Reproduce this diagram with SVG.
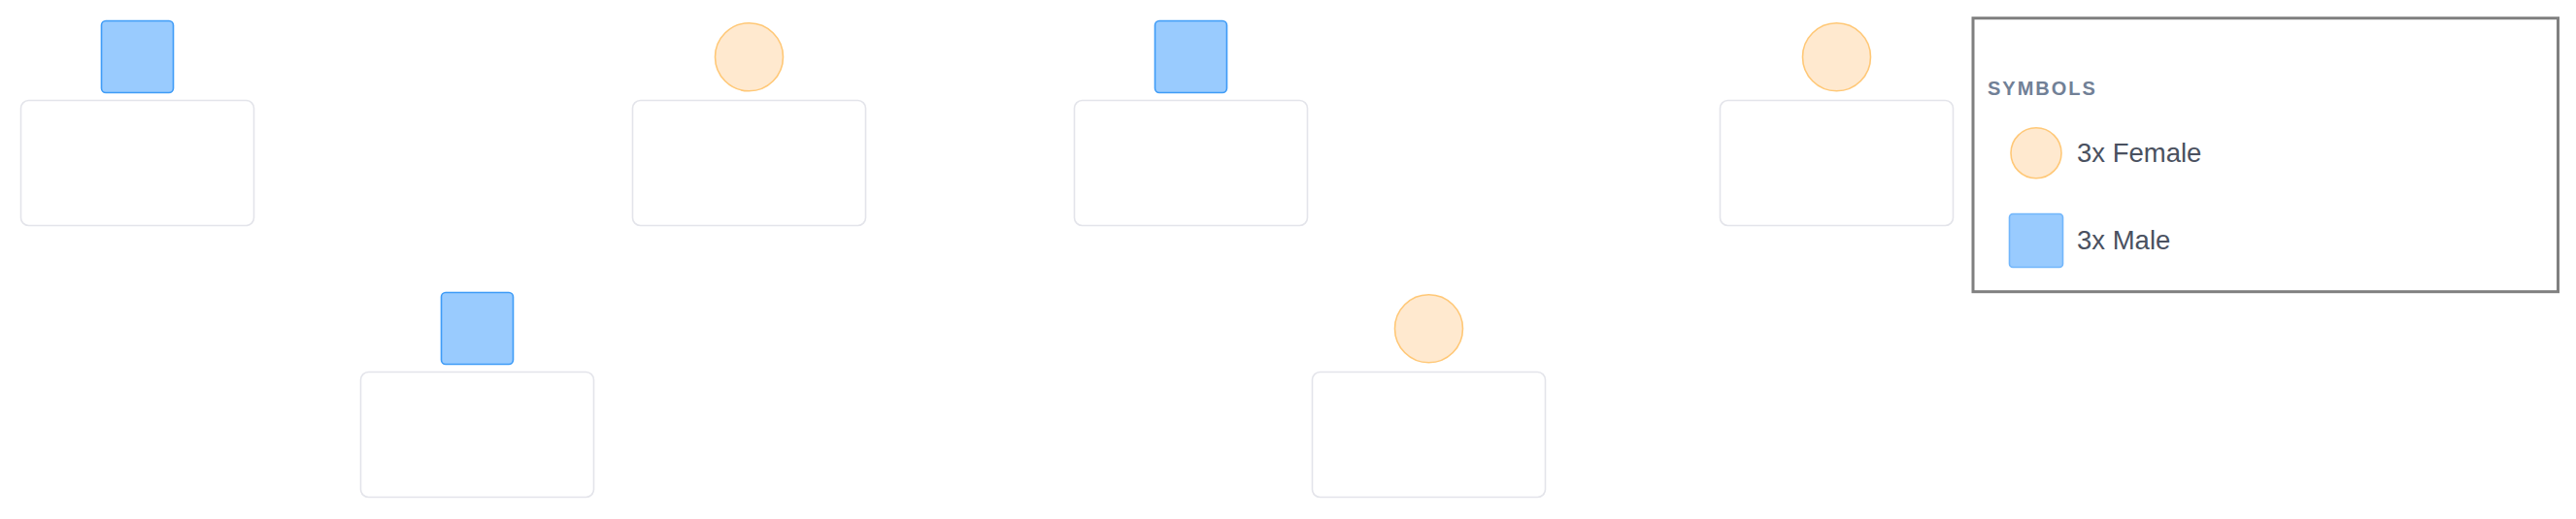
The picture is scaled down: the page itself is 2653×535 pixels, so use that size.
<svg xmlns="http://www.w3.org/2000/svg" width="2653" height="535" viewBox="0 0 2653 535">
<style>
.card{fill:#ffffff;stroke:#e3e4ea;stroke-width:1.6}
.male{fill:#99cbfe;stroke:#3f9cf7;stroke-width:1.6}
.female{fill:#ffe9cf;stroke:#ffc877;stroke-width:1.6}
.lm{fill:#99cbfe;stroke:#72b6fb;stroke-width:1.6}
.title{font-family:"Liberation Sans",Arial,sans-serif;font-weight:bold;font-size:20px;letter-spacing:2px;fill:#718096}
.lbl{font-family:"Liberation Sans",Arial,sans-serif;font-size:27.5px;fill:#4a5160}
</style>
<rect width="2653" height="535" fill="#ffffff"/>
<g id="connectors"></g>
<g id="node1">
<rect class="card" x="21.5" y="103.5" width="240" height="129" rx="8"/>
<rect class="male" x="104.5" y="21.5" width="74" height="74" rx="4.5"/>
</g>
<g id="node2">
<rect class="card" x="651.5" y="103.5" width="240" height="129" rx="8"/>
<circle class="female" cx="771.5" cy="58.8" r="35"/>
</g>
<g id="node3">
<rect class="card" x="1106.5" y="103.5" width="240" height="129" rx="8"/>
<rect class="male" x="1189.5" y="21.5" width="74" height="74" rx="4.5"/>
</g>
<g id="node4">
<rect class="card" x="1771.5" y="103.5" width="240" height="129" rx="8"/>
<circle class="female" cx="1891.5" cy="58.8" r="35"/>
</g>
<g id="node5">
<rect class="card" x="371.5" y="383.5" width="240" height="129" rx="8"/>
<rect class="male" x="454.5" y="301.5" width="74" height="74" rx="4.5"/>
</g>
<g id="node6">
<rect class="card" x="1351.5" y="383.5" width="240" height="129" rx="8"/>
<circle class="female" cx="1471.5" cy="338.8" r="35"/>
</g>
<g id="legend">
<rect x="2032" y="18.7" width="602.5" height="282" fill="#ffffff" stroke="#808080" stroke-width="3"/>
<text class="title" x="2047" y="98">SYMBOLS</text>
<circle class="female" cx="2097" cy="157.8" r="26"/>
<text class="lbl" x="2139" y="167">3x Female</text>
<rect class="lm" x="2069.5" y="220.5" width="55" height="55" rx="3.5"/>
<text class="lbl" x="2139" y="257">3x Male</text>
</g>
</svg>
